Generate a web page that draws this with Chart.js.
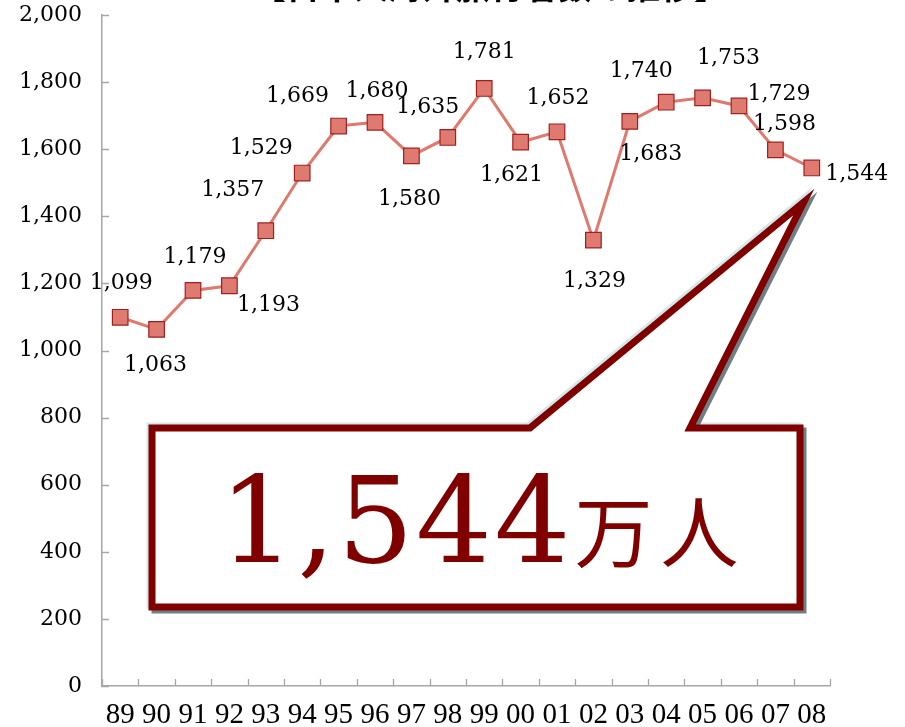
<!DOCTYPE html>
<html>
<head>
<meta charset="utf-8">
<script src="https://cdn.jsdelivr.net/npm/chart.js@4.4.1/dist/chart.umd.min.js"></script>
<style>
html,body{margin:0;padding:0;background:#fff;}
#wrap{width:905px;height:727px;position:relative;}
</style>
</head>
<body>
<div id="wrap"><canvas id="c" width="905" height="727"></canvas></div>
<script>
const years = ["89","90","91","92","93","94","95","96","97","98","99","00","01","02","03","04","05","06","07","08"];
const travelers = [1099,1063,1179,1193,1357,1529,1669,1680,1580,1635,1781,1621,1652,1329,1683,1740,1753,1729,1598,1544];
const yTicks = [0,200,400,600,800,1000,1200,1400,1600,1800,2000];
const titleText = "【日本人海外旅行者数の推移】";
const calloutNumber = "1,544";
const calloutUnit = "万人";

// label offsets (dx, dy) relative to each point, in pixels
const labelDX = [1,-1,2,39,-33,-41,-41,2,-2,-20,0,-9,1,1,21,-25,26,40,9,45];
const labelDY = [-34,36,-33,20,-40,-25,-30,-31,43,-30,-36,33,-33,41,33,-31,-40,-12,-26,6];

const fmt = v => v.toLocaleString('en-US');

const decor = {
  id: 'decor',
  afterDraw(chart) {
    const ctx = chart.ctx;
    const xs = chart.scales.x, ys = chart.scales.y;
    const area = chart.chartArea;
    ctx.save();
    // inward ticks
    ctx.strokeStyle = '#a6a6a6';
    ctx.lineWidth = 1.3;
    ctx.beginPath();
    yTicks.forEach(v => {
      const y = Math.round(ys.getPixelForValue(v)) + 0.5;
      ctx.moveTo(area.left, y); ctx.lineTo(area.left + 7, y);
    });
    const half = (xs.getPixelForValue(1) - xs.getPixelForValue(0)) / 2;
    for (let i = 0; i <= years.length; i++) {
      const x = Math.round(xs.getPixelForValue(i) - half) + 0.5;
      ctx.moveTo(x, area.bottom); ctx.lineTo(x, area.bottom - 7);
    }
    ctx.stroke();

    // data labels
    const meta = chart.getDatasetMeta(0);
    ctx.fillStyle = '#000';
    ctx.font = '22px "DejaVu Serif"';
    ctx.textAlign = 'center';
    ctx.textBaseline = 'middle';
    meta.data.forEach((pt, i) => {
      ctx.fillText(fmt(travelers[i]), pt.x + labelDX[i], pt.y + labelDY[i]);
    });

    // title (mostly cut off above the canvas)
    ctx.font = 'bold 34px "Noto Sans CJK JP"';
    ctx.textBaseline = 'alphabetic';
    ctx.fillText(titleText, 490, -1.5);

    // callout
    const last = meta.data[meta.data.length - 1];
    const tipX = last.x - 8, tipY = last.y + 34;
    const L = 152, R = 800, T = 428, B = 607;
    const path = () => {
      ctx.beginPath();
      ctx.moveTo(L, T);
      ctx.lineTo(530, T);
      ctx.lineTo(tipX, tipY);
      ctx.lineTo(690, T);
      ctx.lineTo(R, T);
      ctx.lineTo(R, B);
      ctx.lineTo(L, B);
      ctx.closePath();
    };
    ctx.lineJoin = 'miter';
    ctx.miterLimit = 10;
    ctx.save(); ctx.translate(-2, -2); path();
    ctx.strokeStyle = '#d4e8ec'; ctx.lineWidth = 7; ctx.stroke(); ctx.restore();
    ctx.save(); ctx.translate(3, 3); path();
    ctx.strokeStyle = '#6f7f86'; ctx.lineWidth = 7; ctx.stroke(); ctx.restore();
    path();
    ctx.fillStyle = '#fff'; ctx.fill();
    ctx.strokeStyle = '#800000'; ctx.lineWidth = 7; ctx.stroke();

    // callout text
    ctx.fillStyle = '#800000';
    ctx.textAlign = 'left';
    ctx.textBaseline = 'alphabetic';
    ctx.font = '120px "DejaVu Serif"';
    ctx.letterSpacing = '2px';
    const w1 = ctx.measureText(calloutNumber).width;
    const startX = 219;
    ctx.fillText(calloutNumber, startX, 562);
    ctx.font = '78px "Noto Sans CJK JP"';
    ctx.letterSpacing = '8px';
    ctx.fillText(calloutUnit, startX + w1 + 2, 562);
    ctx.letterSpacing = '0px';
    ctx.restore();
  }
};

new Chart(document.getElementById('c'), {
  type: 'line',
  data: {
    labels: years,
    datasets: [{
      data: travelers,
      borderColor: '#e0786c',
      borderWidth: 3,
      backgroundColor: '#de7a6f',
      pointStyle: 'rect',
      pointRadius: 11,
      pointBorderColor: '#a11f1f',
      pointBorderWidth: 1.2,
      tension: 0,
      clip: false
    }]
  },
  options: {
    responsive: false,
    animation: false,
    devicePixelRatio: 1,
    layout: { autoPadding: false, padding: { top: 15, right: 75, left: 0, bottom: 0 } },
    plugins: { legend: { display: false }, tooltip: { enabled: false }, title: { display: false } },
    scales: {
      x: {
        offset: true,
        grid: { display: false, drawTicks: false, offset: true },
        border: { display: true, color: '#a6a6a6', width: 1.5 },
        afterFit: s => { s.height = 41; },
        ticks: { color: '#000', font: { family: 'Liberation Serif', size: 29 }, padding: 12, maxRotation: 0, autoSkip: false }
      },
      y: {
        min: 0, max: 2000,
        afterBuildTicks: s => { s.ticks = yTicks.map(v => ({ value: v })); },
        grid: { display: false, drawTicks: false },
        border: { display: true, color: '#a6a6a6', width: 1.5 },
        afterFit: s => { s.width = 102; s.paddingTop = 0; s.paddingBottom = 0; },
        ticks: { color: '#000', font: { family: 'DejaVu Serif', size: 22 }, padding: 20, callback: v => fmt(v) }
      }
    }
  },
  plugins: [decor]
});
</script>
</body>
</html>
